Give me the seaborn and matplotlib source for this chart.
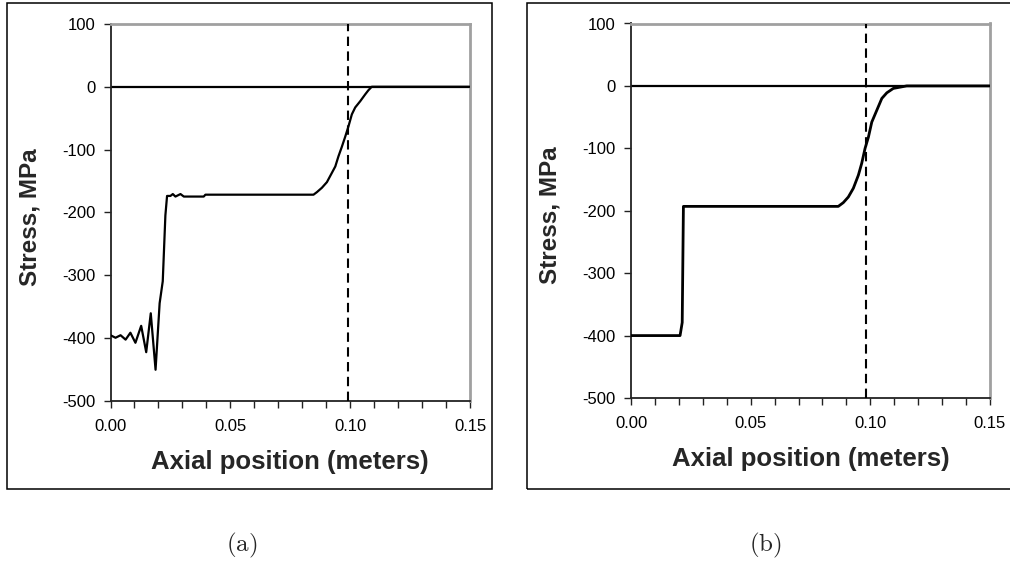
import matplotlib
matplotlib.use("Agg")
import matplotlib.pyplot as plt
from matplotlib.ticker import MultipleLocator, FormatStrFormatter
from matplotlib.patches import Rectangle
import seaborn as sns
import pandas as pd

# ---------------- data ----------------
a_x = [0.0, 0.0021, 0.0042, 0.0063, 0.0083, 0.0104, 0.0128, 0.0149, 0.0168,
       0.0188, 0.0205, 0.0218, 0.0229, 0.0236, 0.0250, 0.0260, 0.0271, 0.0292,
       0.0306, 0.0389, 0.0396, 0.0847, 0.0861, 0.0882, 0.0903, 0.0924, 0.0938,
       0.0951, 0.0965, 0.0979, 0.0993, 0.1007, 0.1021, 0.1042, 0.1063, 0.1076,
       0.1090, 0.1500]
a_y = [-396, -400, -396, -403, -392, -408, -381, -423, -361,
       -451, -345, -310, -205, -174, -174, -171, -175, -171,
       -175, -175, -172, -172, -168, -161, -152, -137, -127,
       -111, -96, -80, -63, -44, -33, -23, -12, -5.6,
       0, 0]

b_x = [0.0, 0.0205, 0.0214, 0.0219, 0.0866, 0.0887, 0.0908, 0.0929, 0.0950,
       0.0964, 0.0978, 0.0992, 0.1006, 0.1027, 0.1048, 0.1069, 0.1096, 0.1124,
       0.1152, 0.1500]
b_y = [-400, -400, -379, -193, -193, -187, -178, -164, -143,
       -124, -100, -82, -58, -39, -20, -11, -4, -2,
       0, 0]

a_vline = 0.099
b_vline = 0.098

x_label = "Axial position (meters)"
y_label = "Stress, MPa"
captions = ["(a)", "(b)"]
x_lim = (0.0, 0.15)
y_lim = (-500, 100)

# ---------------- style ----------------
sns.set_theme(style="white")
plt.rcParams["font.family"] = ["Liberation Sans", "DejaVu Sans"]
plt.rcParams["axes.unicode_minus"] = False
plt.rcParams["mathtext.fontset"] = "cm"

W, H = 1010, 567
fig = plt.figure(figsize=(W / 100, H / 100), dpi=100)

def frac_rect(l, t, r, b):
    return [l / W, 1 - b / H, (r - l) / W, (b - t) / H]

panels = [
    dict(x=a_x, y=a_y, v=a_vline, rect=frac_rect(110.5, 24.0, 470.0, 400.5),
         box=(6.7, 3.3, 492.3, 489.0), cap=(241.7, 545), lw=1.6),
    dict(x=b_x, y=b_y, v=b_vline, rect=frac_rect(631.0, 23.5, 990.0, 398.0),
         box=(527.3, 3.3, 1020.0, 488.5), cap=(765.0, 545), lw=2.0),
]

for i, p in enumerate(panels):
    ax = fig.add_axes(p["rect"])
    df = pd.DataFrame({"x": p["x"], "y": p["y"]})
    ax.axhline(0, color="black", lw=1.6, zorder=2)
    sns.lineplot(data=df, x="x", y="y", ax=ax, color="black", lw=p["lw"],
                 estimator=None, sort=False, zorder=3)
    ax.axvline(p["v"], color="black", lw=1.5, dashes=(4.5, 2.6), zorder=4)
    ax.set_xlim(*x_lim)
    ax.set_ylim(*y_lim)
    ax.xaxis.set_major_locator(MultipleLocator(0.05))
    ax.xaxis.set_minor_locator(MultipleLocator(0.01))
    ax.xaxis.set_major_formatter(FormatStrFormatter("%.2f"))
    ax.yaxis.set_major_locator(MultipleLocator(100))
    ax.tick_params(axis="both", which="both", direction="out", length=5,
                   width=1, color="#222222", labelsize=12, labelcolor="black")
    ax.tick_params(axis="x", which="both", bottom=True, pad=8)
    ax.tick_params(axis="y", which="both", left=True, pad=6)
    for s in ["top", "right"]:
        ax.spines[s].set_color("#a0a0a0")
        ax.spines[s].set_linewidth(2.0)
    for s in ["left", "bottom"]:
        ax.spines[s].set_color("#222222")
        ax.spines[s].set_linewidth(1.3)
    ax.set_xlabel(x_label, fontsize=18.5, fontweight="bold", va="center")
    ax.set_ylabel(y_label, fontsize=17.5, fontweight="bold", va="center")
    ax.xaxis.set_label_coords(0.5, -0.163)
    ax.yaxis.set_label_coords(-0.225, 0.487)
    ax.set_facecolor("white")

    l, t, r, b = p["box"]
    fig.patches.append(Rectangle((l / W, 1 - b / H), (r - l) / W, (b - t) / H,
                                 transform=fig.transFigure, fill=False,
                                 edgecolor="black", lw=1.1))
    cx, cy = p["cap"]
    fig.text(cx / W, 1 - cy / H, r"$\mathrm{" + captions[i] + "}$",
             fontsize=18, ha="center", va="center")

fig.savefig("out.png", dpi=100)
